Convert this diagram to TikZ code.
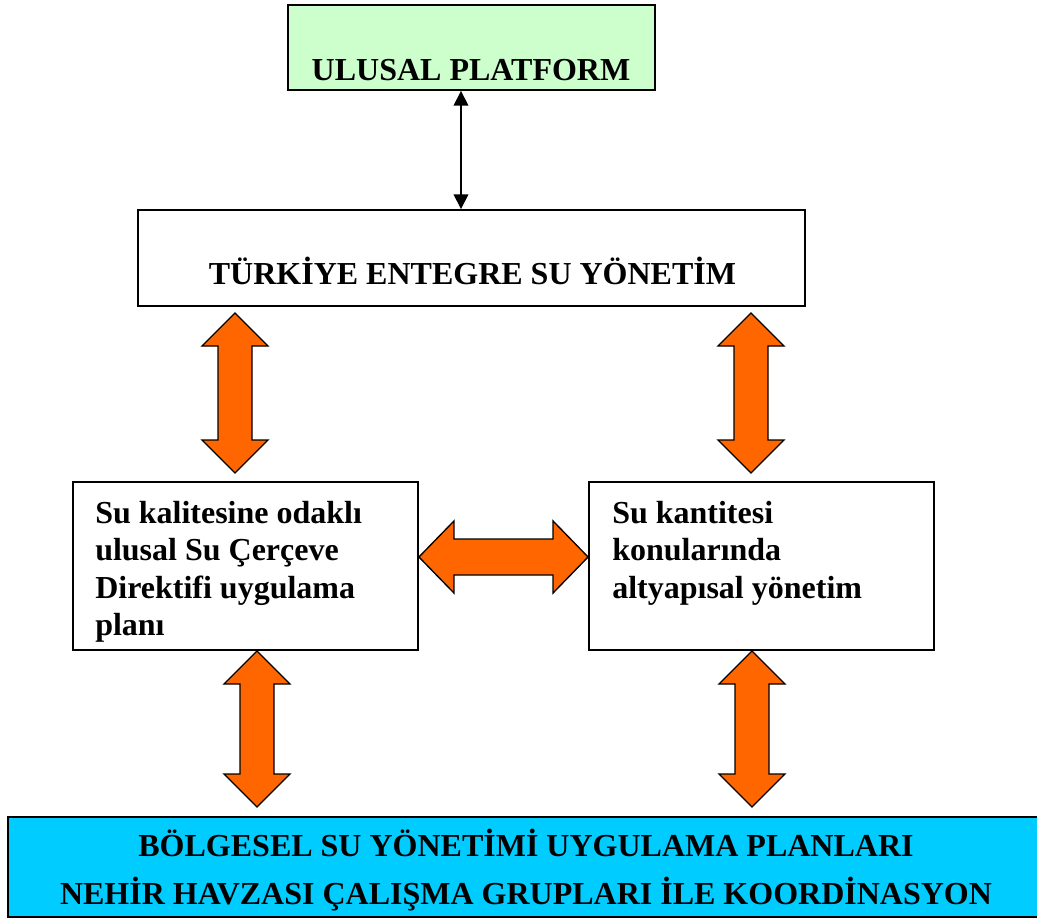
\documentclass[tikz,border=0pt]{standalone}
\usepackage{fontspec}
\setmainfont{Liberation Serif}
\usetikzlibrary{calc,fit,arrows.meta}

\definecolor{platgreen}{HTML}{CCFFCC}
\definecolor{havzablue}{HTML}{00CCFF}
\definecolor{okorange}{HTML}{FF6600}

\tikzset{
  kutu/.style={draw=black, line width=1.4pt, inner sep=0pt},
  yazi/.style={inner sep=0pt, font=\fontsize{24}{28}\selectfont\bfseries},
  blok/.style={draw=black, fill=okorange, line width=1pt, line join=miter},
}
% vertical block arrow: #1 top tip, #2 bottom tip
\newcommand{\dikok}[2]{%
  \draw[blok] (#1) -- ++(33,33) -- ++(-16,0) -- ($(#2)+(17,-33)$) -- ++(16,0)
    -- (#2) -- ++(-33,-33) -- ++(16,0) -- ($(#1)+(-17,33)$) -- ++(-16,0) -- cycle;}
% horizontal block arrow: #1 left tip, #2 right tip
\newcommand{\yatayok}[2]{%
  \draw[blok] (#1) -- ++(35,-36) -- ++(0,18) -- ($(#2)+(-35,-18)$) -- ++(0,-18)
    -- (#2) -- ++(-35,36) -- ++(0,-18) -- ($(#1)+(35,18)$) -- ++(0,18) -- cycle;}

\begin{document}
\begin{tikzpicture}[x=0.75pt,y=-0.75pt,line join=miter]
  \useasboundingbox (0,0) rectangle (1037,920);
  % boxes
  \node[kutu, fill=platgreen, fit={(288,5) (655,90)}] (plat) {};
  \node[kutu, fit={(138,210) (805,306)}] (tur) {};
  \node[kutu, fit={(73,482) (418,650)}] (kal) {};
  \node[kutu, fit={(589,482) (934,650)}] (kan) {};
  \node[kutu, line width=2pt, fill=havzablue, fit={(8,817) (1040,917)}] (bolge) {};
  % texts
  \node[yazi, anchor=base] (platyazi) at (471,81) {ULUSAL PLATFORM};
  \node[yazi, anchor=base] (turyazi) at (472.5,284) {TÜRKİYE ENTEGRE SU YÖNETİM};
  \node[yazi, anchor=north west, align=left] (kalyazi) at (95,501)
    {Su kalitesine odaklı\\ulusal Su Çerçeve\\Direktifi uygulama\\planı};
  \node[yazi, anchor=north west, align=left] (kanyazi) at (612,501)
    {Su kantitesi\\konularında\\altyapısal yönetim};
  \node[yazi, align=center, anchor=north, font=\fontsize{24}{36}\selectfont\bfseries] (bolgeyazi) at (526,829)
    {BÖLGESEL SU YÖNETİMİ UYGULAMA PLANLARI\\NEHİR HAVZASI ÇALIŞMA GRUPLARI İLE KOORDİNASYON};
  % thin arrow
  \coordinate (ax) at (461,0);
  \draw[line width=1.1pt, {Triangle[width=11pt,length=11pt]}-{Triangle[width=11pt,length=11pt]}]
    (plat.south -| ax) -- (tur.north -| ax);
  % block arrows
  \coordinate (o1t) at (235,313); \coordinate (o1b) at (235,473);
  \coordinate (o2t) at (751,313); \coordinate (o2b) at (751,473);
  \coordinate (o3t) at (257,651); \coordinate (o3b) at (257,807);
  \coordinate (o4t) at (752,651); \coordinate (o4b) at (752,807);
  \dikok{o1t}{o1b}
  \dikok{o2t}{o2b}
  \dikok{o3t}{o3b}
  \dikok{o4t}{o4b}
  \yatayok{kal.east |- 0,557}{kan.west |- 0,557}
\end{tikzpicture}
\end{document}
